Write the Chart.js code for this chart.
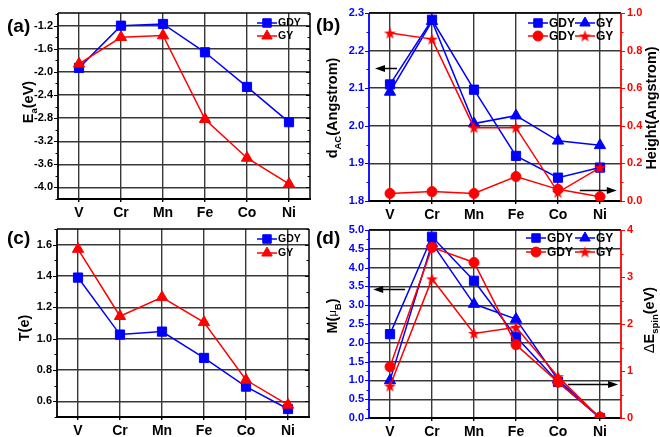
<!DOCTYPE html>
<html><head><meta charset="utf-8">
<script src="https://cdn.jsdelivr.net/npm/chart.js@4.4.0/dist/chart.umd.min.js"></script>
<style>
html,body{margin:0;padding:0;background:#fff;}
body{width:660px;height:437px;position:relative;overflow:hidden;font-family:"Liberation Sans",Arial,sans-serif;}
canvas{position:absolute;}
.lab{position:absolute;font:bold 19px "Liberation Sans",Arial,sans-serif;color:#000;line-height:20px;}
</style></head><body>
<canvas id="ca" width="330" height="222" style="left:0;top:0"></canvas>
<canvas id="cb" width="340" height="222" style="left:320px;top:0"></canvas>
<canvas id="cc" width="330" height="221" style="left:0;top:216px"></canvas>
<canvas id="cd" width="340" height="221" style="left:320px;top:216px"></canvas>
<div class="lab" style="left:7px;top:16px">(a)</div>
<div class="lab" style="left:316px;top:15px">(b)</div>
<div class="lab" style="left:7px;top:228px">(c)</div>
<div class="lab" style="left:316px;top:228px">(d)</div>
<script>
// ---------------- data ----------------
const elements = ['V', 'Cr', 'Mn', 'Fe', 'Co', 'Ni'];

const eaGDY = [-1.93, -1.20, -1.17, -1.66, -2.26, -2.87];
const eaGY  = [-1.86, -1.40, -1.37, -2.82, -3.49, -3.94];
const eaTicks = [-4.0, -3.6, -3.2, -2.8, -2.4, -2.0, -1.6, -1.2];

const dacGDY = [2.110, 2.282, 2.096, 1.920, 1.862, 1.889];
const dacGY  = [2.090, 2.278, 2.006, 2.027, 1.960, 1.948];
const dacTicks = [1.8, 1.9, 2.0, 2.1, 2.2, 2.3];
const heightGDY = [0.040, 0.050, 0.040, 0.130, 0.062, 0.023];
const heightGY  = [0.893, 0.861, 0.390, 0.390, 0.046, 0.178];
const heightTicks = [0.0, 0.2, 0.4, 0.6, 0.8, 1.0];

const tGDY = [1.390, 1.026, 1.045, 0.877, 0.694, 0.551];
const tGY  = [1.572, 1.143, 1.264, 1.104, 0.736, 0.577];
const tTicks = [0.6, 0.8, 1.0, 1.2, 1.4, 1.6];

const mGDY = [2.23, 4.82, 3.65, 2.16, 0.96, 0.00];
const mGY  = [1.00, 4.65, 3.03, 2.63, 1.02, 0.00];
const mTicks = [0.0, 0.5, 1.0, 1.5, 2.0, 2.5, 3.0, 3.5, 4.0, 4.5, 5.0];
const deGDY = [1.09, 3.63, 3.31, 1.56, 0.76, 0.02];
const deGY  = [0.68, 2.96, 1.80, 1.93, 0.88, 0.00];
const deTicks = [0, 1, 2, 3, 4];

// ---------------- styling ----------------
const BLUE = '#0000ff', RED = '#ff0000', GRID = '#383838';
const FONT = '"Liberation Sans", Arial, sans-serif';

function starImage(color, r) {
  const s = Math.ceil(r * 2 + 2);
  const c = document.createElement('canvas');
  c.width = s; c.height = s;
  const g = c.getContext('2d');
  g.fillStyle = color;
  g.beginPath();
  for (let i = 0; i < 10; i++) {
    const rr = (i % 2 === 0) ? r : r * 0.42;
    const ang = -Math.PI / 2 + i * Math.PI / 5;
    const x = s / 2 + rr * Math.cos(ang), y = s / 2 + 0.5 + rr * Math.sin(ang);
    if (i === 0) g.moveTo(x, y); else g.lineTo(x, y);
  }
  g.closePath(); g.fill();
  return c;
}
const STAR = starImage(RED, 6.2);
const STAR_L = starImage(RED, 6.2);

function ds(label, data, color, style, radius, yAxisID, order) {
  return {
    label, data, yAxisID, order,
    borderColor: color, backgroundColor: color, borderWidth: 1.5,
    pointStyle: style, pointRadius: radius, pointHoverRadius: radius,
    pointBorderWidth: 1, pointBackgroundColor: color, pointBorderColor: color,
    tension: 0, fill: false
  };
}

function drawMarker(ctx, style, r, x, y, color) {
  ctx.save();
  ctx.fillStyle = color; ctx.strokeStyle = color; ctx.lineWidth = 1;
  if (style instanceof HTMLCanvasElement) {
    ctx.drawImage(style, x - style.width / 2, y - style.height / 2);
  } else {
    ctx.beginPath();
    if (style === 'rect') {
      const h = r * Math.SQRT1_2;
      ctx.rect(x - h, y - h, 2 * h, 2 * h);
    } else if (style === 'triangle') {
      let a = 0;
      ctx.moveTo(x + Math.sin(a) * r, y - Math.cos(a) * r);
      a += 2 * Math.PI / 3; ctx.lineTo(x + Math.sin(a) * r, y - Math.cos(a) * r);
      a += 2 * Math.PI / 3; ctx.lineTo(x + Math.sin(a) * r, y - Math.cos(a) * r);
      ctx.closePath();
    } else {
      ctx.arc(x, y, r, 0, Math.PI * 2);
    }
    ctx.fill(); ctx.stroke();
  }
  ctx.restore();
}

function drawRich(ctx, cx, cy, parts, color) {
  ctx.save();
  ctx.translate(cx, cy);
  ctx.rotate(-Math.PI / 2);
  ctx.textBaseline = 'middle';
  ctx.fillStyle = color;
  let total = 0;
  parts.forEach(p => {
    p.f = (p.w || 'bold') + ' ' + (p.sub ? 9.5 : (p.s || 14.5)) + 'px ' + FONT;
    ctx.font = p.f;
    p.width = ctx.measureText(p.t).width;
    total += p.width;
  });
  let x = -total / 2;
  parts.forEach(p => {
    ctx.font = p.f;
    ctx.fillText(p.t, x, p.sub ? 5 : 0);
    x += p.width;
  });
  ctx.restore();
}

function arrow(ctx, x0, y, x1) {
  const dir = Math.sign(x1 - x0);
  ctx.save();
  ctx.strokeStyle = '#000'; ctx.fillStyle = '#000'; ctx.lineWidth = 1.5;
  ctx.beginPath(); ctx.moveTo(x0, y); ctx.lineTo(x1 - dir * 6, y); ctx.stroke();
  ctx.beginPath(); ctx.moveTo(x1, y); ctx.lineTo(x1 - dir * 10, y - 3.5); ctx.lineTo(x1 - dir * 10, y + 3.5); ctx.closePath(); ctx.fill();
  ctx.restore();
}

function makeDeco(d) {
  return {
    id: 'deco',
    beforeDatasetsDraw(chart) {
      const ctx = chart.ctx, a = chart.chartArea;
      ctx.save();
      d.yTicks.forEach(t => {
        const s = chart.scales[t.id];
        const edge = t.side === 'left' ? a.left : a.right;
        const out = t.side === 'left' ? -1 : 1;
        const opp = t.side === 'left' ? a.right : a.left;
        const st = Math.ceil((s.min - 1e-9) / t.minor), en = Math.floor((s.max + 1e-9) / t.minor);
        for (let k = st; k <= en; k++) {
          const v = k * t.minor;
          const major = s.ticks.some(tk => Math.abs(tk.value - v) < t.minor / 10);
          const len = major ? 4 : 2.5;
          const y = Math.round(s.getPixelForValue(v)) + 0.5;
          ctx.lineWidth = 1;
          ctx.strokeStyle = t.color;
          ctx.beginPath(); ctx.moveTo(edge, y); ctx.lineTo(edge + out * len, y); ctx.stroke();
          if (t.mirror) {
            ctx.strokeStyle = '#000';
            ctx.beginPath(); ctx.moveTo(opp, y); ctx.lineTo(opp + out * len, y); ctx.stroke();
          }
        }
      });
      const ln = (x0, y0, x1, y1, c, w) => { ctx.strokeStyle = c; ctx.lineWidth = w; ctx.beginPath(); ctx.moveTo(x0, y0); ctx.lineTo(x1, y1); ctx.stroke(); };
      ln(a.left, a.top, a.right, a.top, '#000', 1.5);
      ln(a.left - 1, a.bottom, a.right + 1, a.bottom, '#000', 1.8);
      ln(a.left, a.top, a.left, a.bottom + 1, d.leftColor, 1.8);
      ln(a.right, a.top, a.right, a.bottom + 1, d.rightColor, d.rightColor === '#000' ? 1.5 : 1.8);
      ctx.restore();
    },
    afterDraw(chart) {
      const ctx = chart.ctx;
      d.legend.forEach(it => {
        ctx.save();
        ctx.strokeStyle = it.color; ctx.lineWidth = 1.5;
        ctx.beginPath(); ctx.moveTo(it.cx - it.half, it.y); ctx.lineTo(it.cx + it.half, it.y); ctx.stroke();
        drawMarker(ctx, it.style, it.r, it.cx, it.y, it.color);
        ctx.fillStyle = '#000';
        ctx.font = 'bold ' + it.fs + 'px ' + FONT;
        ctx.textBaseline = 'middle';
        ctx.fillText(it.text, it.cx + it.half + 1, it.y + 0.5);
        ctx.restore();
      });
      d.titles.forEach(t => drawRich(ctx, t.x, t.y, t.parts, t.color || '#000'));
      (d.arrows || []).forEach(ar => {
        const xs = chart.scales.x, ys = chart.scales[ar.scale];
        arrow(ctx, xs.getPixelForValue(ar.from), Math.round(ys.getPixelForValue(ar.y)) + 0.5, xs.getPixelForValue(ar.to));
      });
    }
  };
}

function makePanel(id, area, datasets, y1, y2, deco) {
  const cv = document.getElementById(id);
  const W = cv.width, H = cv.height;
  const tickFont = { family: FONT, size: 11, weight: 'bold' };
  const scales = {
    x: {
      type: 'category', labels: elements, offset: true,
      grid: { offset: false, color: GRID, lineWidth: 1.4, drawTicks: true, tickLength: 3, tickColor: '#000' },
      border: { display: false },
      ticks: { color: '#000', font: { family: FONT, size: 14, weight: 'bold' }, padding: 3, maxRotation: 0, autoSkip: false },
      afterFit: s => { s.height = H - area.bottom; }
    },
    y: {
      type: 'linear', position: 'left', min: y1.min, max: y1.max,
      afterBuildTicks: s => { s.ticks = y1.ticks.map(v => ({ value: v })); },
      grid: { color: GRID, lineWidth: 1.4, drawTicks: false },
      border: { display: false },
      ticks: { color: y1.color, font: tickFont, padding: 5, callback: v => Number(v).toFixed(y1.dec) },
      afterFit: s => { s.width = area.left; }
    }
  };
  if (y2) {
    scales.y2 = {
      type: 'linear', position: 'right', min: y2.min, max: y2.max,
      afterBuildTicks: s => { s.ticks = y2.ticks.map(v => ({ value: v })); },
      grid: { drawOnChartArea: false, drawTicks: false },
      border: { display: false },
      ticks: { color: y2.color, font: tickFont, padding: 6, callback: v => Number(v).toFixed(y2.dec) },
      afterFit: s => { s.width = W - area.right; }
    };
  }
  return new Chart(cv, {
    type: 'line',
    data: { labels: elements, datasets },
    options: {
      responsive: false, animation: false, devicePixelRatio: 1,
      layout: { padding: { left: 0, top: area.top, right: y2 ? 0 : W - area.right, bottom: 0 } },
      scales,
      plugins: { legend: { display: false }, tooltip: { enabled: false } },
      events: []
    },
    plugins: [makeDeco(deco)]
  });
}

function legendItem(cx, y, color, style, r, text, fs) {
  return { cx, y, half: 10, color, style, r, text, fs };
}

// ---------------- panel (a) ----------------
makePanel('ca', { left: 58, top: 13, right: 310, bottom: 199 },
  [ds('GDY', eaGDY, BLUE, 'rect', 6.5, 'y', 1), ds('GY', eaGY, RED, 'triangle', 6.5, 'y', 0)],
  { min: -4.2, max: -0.98, ticks: eaTicks, color: '#000', dec: 1 }, null,
  {
    leftColor: '#000', rightColor: '#000',
    yTicks: [{ id: 'y', side: 'left', minor: 0.2, color: '#000', mirror: true }],
    legend: [legendItem(267, 23, BLUE, 'rect', 6, 'GDY', 10.5), legendItem(267, 36, RED, 'triangle', 6, 'GY', 10.5)],
    titles: [{ x: 29, y: 102, parts: [{ t: 'E' }, { t: 'a', sub: true }, { t: '(eV)' }] }]
  });

// ---------------- panel (b) ----------------
makePanel('cb', { left: 49, top: 13, right: 301, bottom: 201 },
  [ds('GDY', dacGDY, BLUE, 'rect', 6.5, 'y', 3), ds('GY', dacGY, BLUE, 'triangle', 6.5, 'y', 2),
   ds('GDY', heightGDY, RED, 'circle', 5, 'y2', 1), ds('GY', heightGY, RED, STAR, 6, 'y2', 0)],
  { min: 1.8, max: 2.3, ticks: dacTicks, color: BLUE, dec: 1 },
  { min: 0, max: 1.0, ticks: heightTicks, color: RED, dec: 1 },
  {
    leftColor: BLUE, rightColor: RED,
    yTicks: [{ id: 'y', side: 'left', minor: 0.05, color: BLUE }, { id: 'y2', side: 'right', minor: 0.1, color: RED }],
    legend: [legendItem(218, 23, BLUE, 'rect', 6, 'GDY', 12), legendItem(265, 23, BLUE, 'triangle', 6, 'GY', 12),
             legendItem(218, 36, RED, 'circle', 5, 'GDY', 12), legendItem(265, 36, RED, STAR_L, 6, 'GY', 12)],
    titles: [{ x: 13, y: 108, parts: [{ t: 'd' }, { t: 'AC', sub: true }, { t: '(Angstrom)' }] },
             { x: 332, y: 108, parts: [{ t: 'Height(Angstrom)' }] }],
    arrows: [{ scale: 'y', y: 2.155, from: 0.167, to: -0.357 }, { scale: 'y2', y: 0.058, from: 4.52, to: 5.4 }]
  });

// ---------------- panel (c) ----------------
makePanel('cc', { left: 57, top: 13, right: 309, bottom: 201 },
  [ds('GDY', tGDY, BLUE, 'rect', 6.5, 'y', 1), ds('GY', tGY, RED, 'triangle', 6.5, 'y', 0)],
  { min: 0.5, max: 1.7, ticks: tTicks, color: '#000', dec: 1 }, null,
  {
    leftColor: '#000', rightColor: '#000',
    yTicks: [{ id: 'y', side: 'left', minor: 0.1, color: '#000', mirror: true }],
    legend: [legendItem(267, 23, BLUE, 'rect', 6, 'GDY', 10.5), legendItem(267, 37, RED, 'triangle', 6, 'GY', 10.5)],
    titles: [{ x: 25, y: 112, parts: [{ t: 'T(e)' }] }]
  });

// ---------------- panel (d) ----------------
makePanel('cd', { left: 49, top: 14, right: 301, bottom: 202 },
  [ds('GDY', mGDY, BLUE, 'rect', 6.5, 'y', 3), ds('GY', mGY, BLUE, 'triangle', 6.5, 'y', 2),
   ds('GDY', deGDY, RED, 'circle', 5, 'y2', 1), ds('GY', deGY, RED, STAR, 6, 'y2', 0)],
  { min: 0, max: 5, ticks: mTicks, color: BLUE, dec: 1 },
  { min: 0, max: 4, ticks: deTicks, color: RED, dec: 0 },
  {
    leftColor: BLUE, rightColor: RED,
    yTicks: [{ id: 'y', side: 'left', minor: 0.25, color: BLUE }, { id: 'y2', side: 'right', minor: 0.5, color: RED }],
    legend: [legendItem(216, 22, BLUE, 'rect', 6, 'GDY', 12), legendItem(265, 22, BLUE, 'triangle', 6, 'GY', 12),
             legendItem(216, 36, RED, 'circle', 5, 'GDY', 12), legendItem(265, 36, RED, STAR_L, 6, 'GY', 12)],
    titles: [{ x: 13, y: 100, parts: [{ t: 'M(' }, { t: 'μ', w: 'normal', s: 11 }, { t: 'B', sub: true }, { t: ')' }] },
             { x: 330, y: 104, parts: [{ t: 'Δ', w: 'normal' }, { t: 'E' }, { t: 'spin', sub: true }, { t: '(eV)' }] }],
    arrows: [{ scale: 'y', y: 3.43, from: 0.36, to: -0.4 }, { scale: 'y2', y: 0.72, from: 4.24, to: 5.43 }]
  });
</script>
</body></html>
